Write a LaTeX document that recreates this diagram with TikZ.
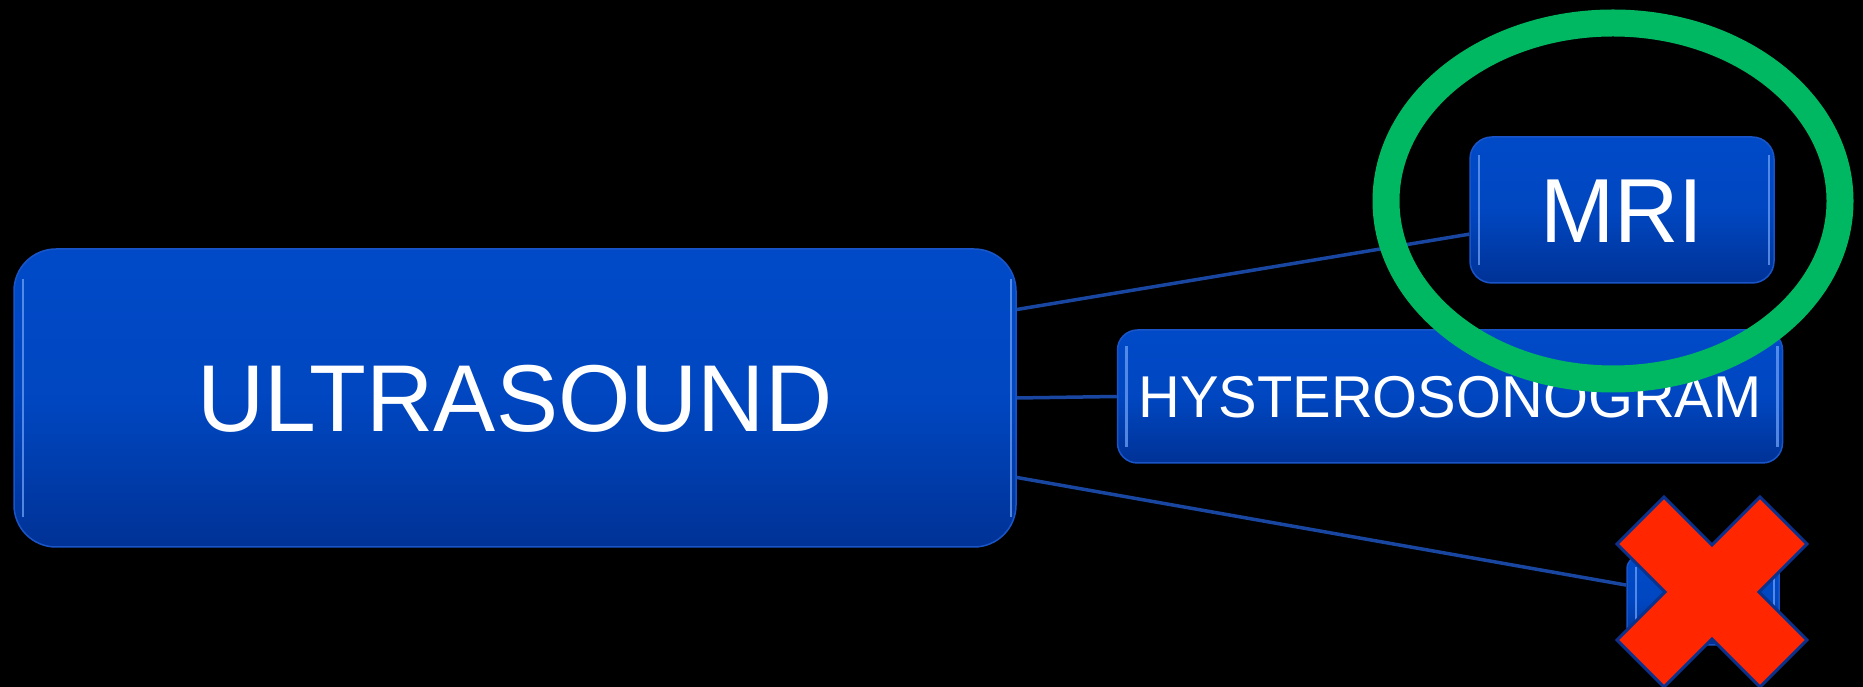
\documentclass[tikz,border=0pt]{standalone}
\usepackage{fontspec}
\setmainfont[FakeStretch=0.98]{Liberation Sans}
\usetikzlibrary{calc}
\definecolor{boxtop}{RGB}{0,74,200}
\definecolor{boxbot}{RGB}{0,50,150}
\definecolor{boxedge}{RGB}{25,85,200}
\definecolor{boxhi}{RGB}{110,160,245}
\definecolor{linkblue}{RGB}{25,70,160}
\definecolor{ringgreen}{RGB}{0,184,98}
\definecolor{xred}{RGB}{255,38,0}
\definecolor{xedge}{RGB}{10,50,140}
\tikzset{
  bluebox/.style={rectangle, top color=boxtop, bottom color=boxbot, middle color=boxtop!85!boxbot,
    draw=boxedge, line width=1.5pt, inner sep=0pt, text=white, align=center,
    path picture={
      \draw[boxhi, line width=2.5pt, opacity=0.75]
        ([xshift=9pt,yshift=-#1]path picture bounding box.north west)
        -- ([xshift=9pt,yshift=#1]path picture bounding box.south west);
      \draw[boxhi, line width=2.5pt, opacity=0.75]
        ([xshift=-5pt,yshift=-#1]path picture bounding box.north east)
        -- ([xshift=-5pt,yshift=#1]path picture bounding box.south east);
    }},
  bluebox/.default=20pt,
  link/.style={draw=linkblue, line width=3.5pt}
}
\begin{document}
\begin{tikzpicture}[x=1pt,y=1pt]
\fill[black] (0,0) rectangle (1863,687);
\useasboundingbox (0,0) rectangle (1863,687);

\node[bluebox=30pt, minimum width=1002pt, minimum height=298pt, rounded corners=42pt,
      font=\fontsize{95}{100}\selectfont, text height=68pt, text depth=0pt]
      (us) at (515,289) {ULTRASOUND};
\node[bluebox=18pt, minimum width=304pt, minimum height=146pt, rounded corners=22pt,
      font=\fontsize{91}{96}\selectfont, text height=65.2pt, text depth=0pt]
      (mri) at (1622,477) {MRI};
\node[bluebox=16pt, minimum width=665pt, minimum height=133pt, rounded corners=20pt,
      font=\fontsize{59}{64}\selectfont, text height=42.2pt, text depth=0pt]
      (hys) at (1450,290.5) {HYSTEROSONOGRAM};
\node[bluebox=12pt, minimum width=152pt, minimum height=90pt, rounded corners=14pt]
      (third) at (1703,87) {};

\draw[link] (us.10) -- (mri.189);
\draw[link] (us.east) -- (hys.west);
\draw[link] (us.-9.4) -- (third.169);

\draw[ringgreen, line width=27pt] (1613,486) ellipse [x radius=227pt, y radius=178pt];

\coordinate (xc) at (1712,95);
\filldraw[fill=xred, draw=xedge, line width=3pt, line join=miter]
  ($(xc)+(0,47)$) -- ++(48,48) -- ++(47,-47) -- ++(-48,-48) -- ++(48,-48) -- ++(-47,-47)
  -- ++(-48,48) -- ++(-48,-48) -- ++(-47,47) -- ++(48,48) -- ++(-48,48) -- ++(47,47) -- cycle;
\end{tikzpicture}
\end{document}
